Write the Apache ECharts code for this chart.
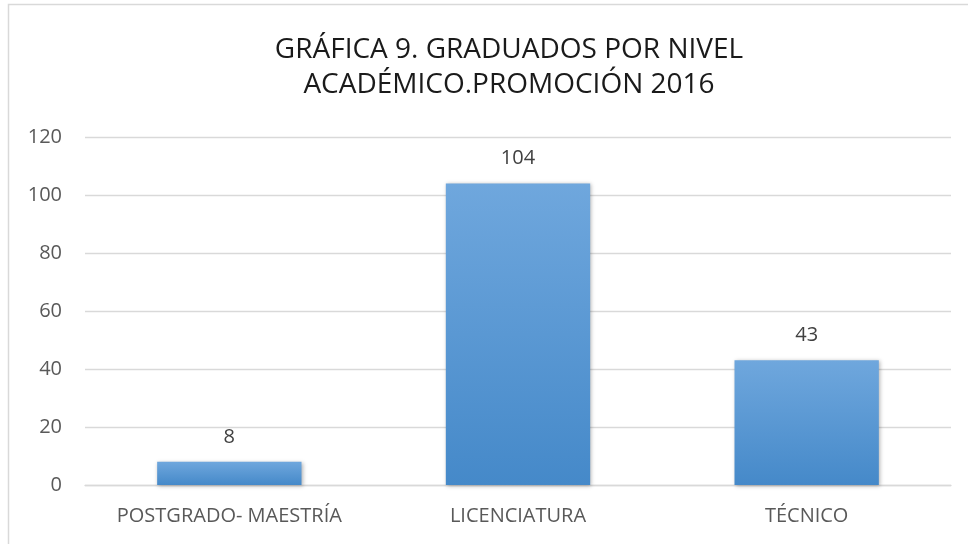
<!DOCTYPE html>
<html>
<head>
<meta charset="utf-8">
<script src="https://cdn.jsdelivr.net/npm/echarts@6/dist/echarts.min.js"></script>
<style>
  html, body { margin: 0; padding: 0; background: #fff; }
  #chart { width: 968px; height: 544px; }
</style>
</head>
<body>
<div id="chart"></div>
<script>
// datos de la gráfica
var categorias = ['POSTGRADO- MAESTRÍA', 'LICENCIATURA', 'TÉCNICO']
var graduados = [8, 104, 43]
var titulo = 'GRÁFICA 9. GRADUADOS POR NIVEL\nACADÉMICO.PROMOCIÓN 2016'

var myChart = echarts.init(document.getElementById('chart'))

var option = {
    backgroundColor: '#fff',
    animation: false,
    title: {
        text: titulo,
        left: 504,
        textAlign: 'center',
        top: 28,
        textStyle: {
            color: '#1a1a1a',
            fontFamily: 'Open Sans',
            fontWeight: 'normal',
            fontSize: 28,
            lineHeight: 35
        }
    },
    // borde del recuadro (solo arriba e izquierda, la imagen está recortada)
    graphic: [{
        type: 'polyline',
        shape: { points: [[8.5, 544], [8.5, 4.5], [968, 4.5]] },
        style: { fill: 'none', stroke: '#d9d9d9', lineWidth: 1.5 },
        silent: true
    }],
    grid: {
        left: 85,
        right: 17,
        top: 137,
        bottom: 59
    },
    xAxis: {
        type: 'category',
        data: categorias,
        axisTick: { show: false },
        axisLine: { lineStyle: { color: '#d9d9d9', width: 1.3 } },
        axisLabel: {
            interval: 0,
            hideOverlap: false,
            color: '#595959',
            fontFamily: 'Open Sans',
            fontSize: 20,
            margin: 21
        }
    },
    yAxis: {
        type: 'value',
        min: 0,
        max: 120,
        interval: 20,
        axisLine: { show: false },
        axisTick: { show: false },
        splitLine: { lineStyle: { color: '#d9d9d9', width: 1.3 } },
        axisLabel: {
            color: '#595959',
            fontFamily: 'Open Sans',
            fontSize: 20,
            margin: 23
        }
    },
    series: [{
        type: 'bar',
        data: graduados,
        barWidth: '50%',
        itemStyle: {
            color: new echarts.graphic.LinearGradient(0, 0, 0, 1, [
                { offset: 0, color: '#6fa7dd' },
                { offset: 1, color: '#4589c9' }
            ]),
            shadowColor: 'rgba(0,0,0,0.3)',
            shadowBlur: 4,
            shadowOffsetX: 1,
            shadowOffsetY: 1
        },
        label: {
            show: true,
            position: 'top',
            distance: 15,
            color: '#404040',
            fontFamily: 'Open Sans',
            fontSize: 20
        }
    }]
}

myChart.setOption(option)
</script>
</body>
</html>
